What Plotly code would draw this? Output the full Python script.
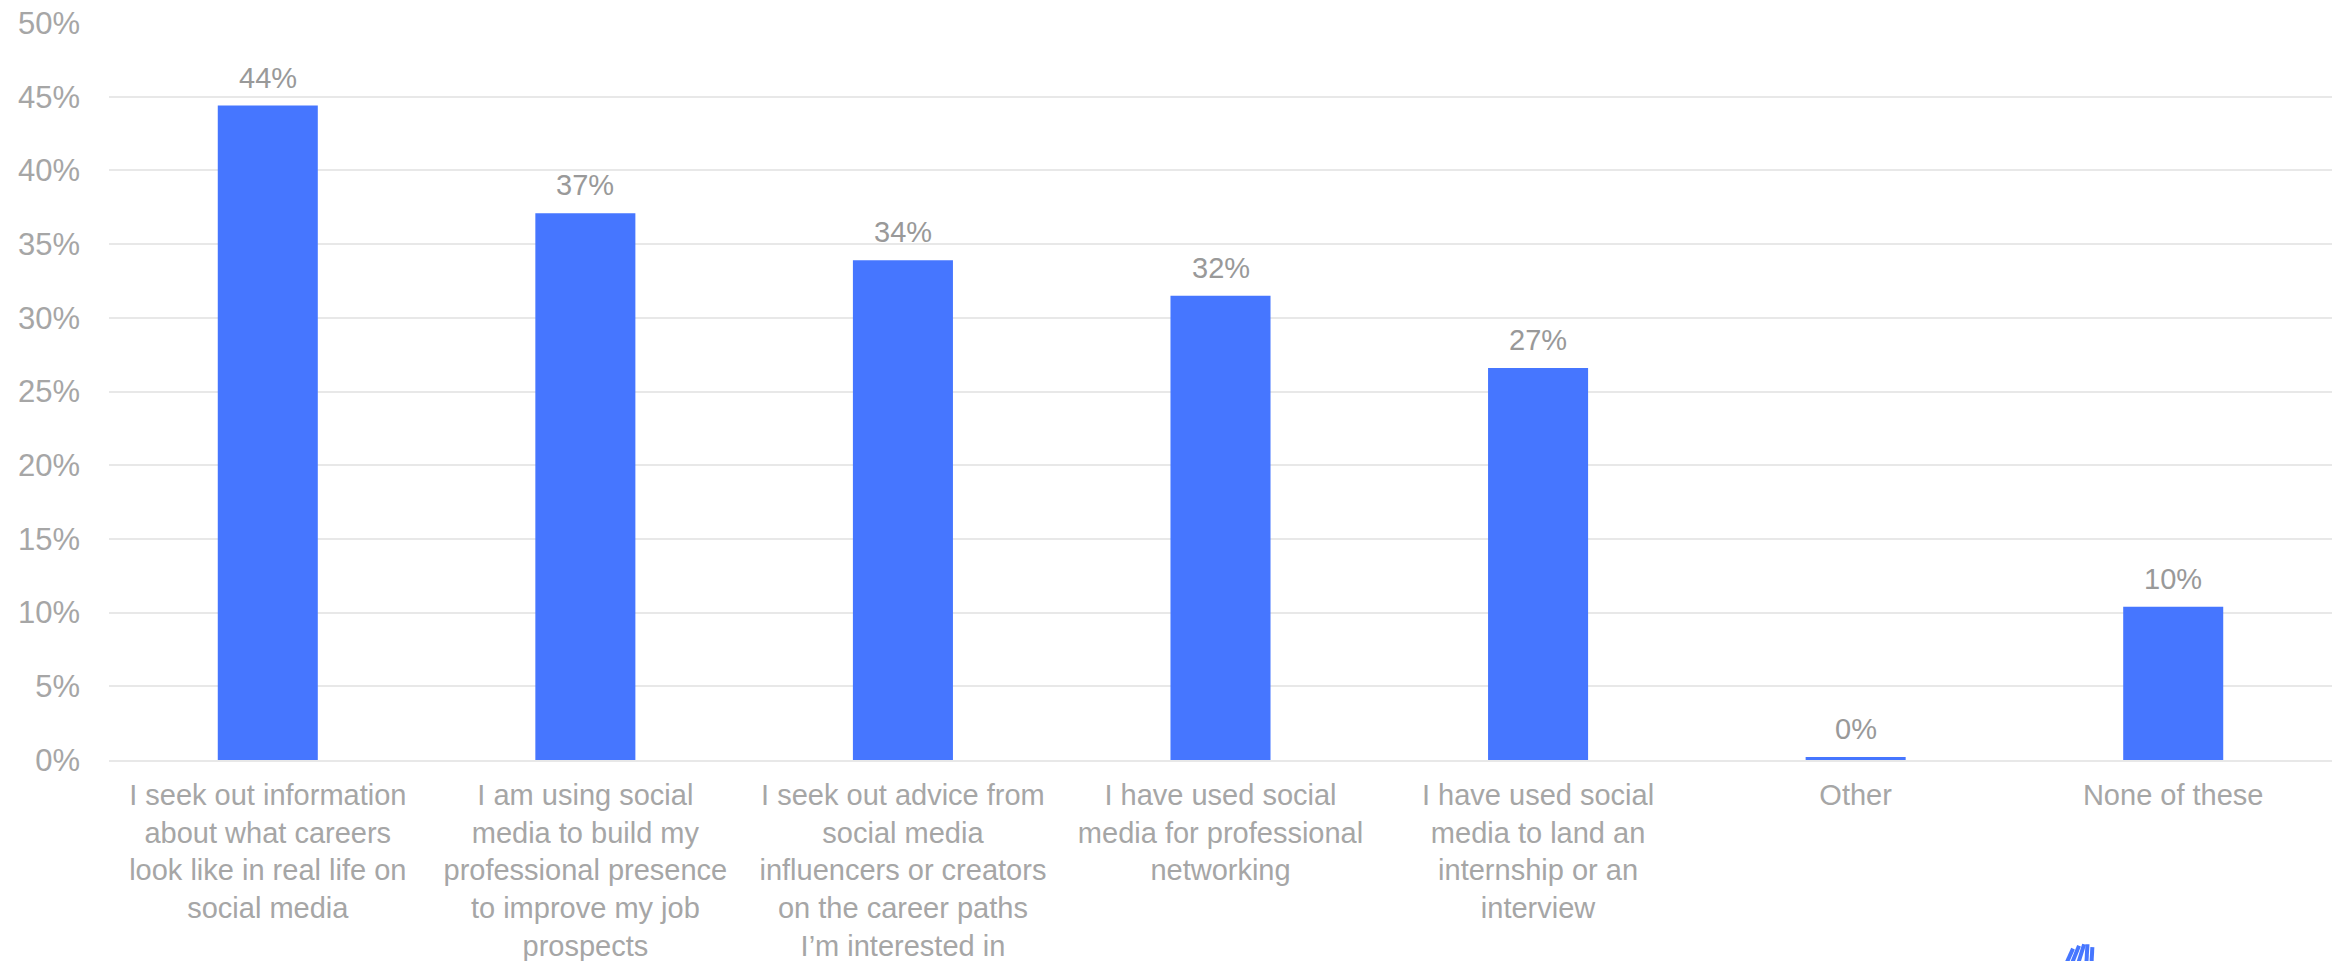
import plotly.graph_objects as go

categories = [
    "I seek out information<br>about what careers<br>look like in real life on<br>social media",
    "I am using social<br>media to build my<br>professional presence<br>to improve my job<br>prospects",
    "I seek out advice from<br>social media<br>influencers or creators<br>on the career paths<br>I’m interested in",
    "I have used social<br>media for professional<br>networking",
    "I have used social<br>media to land an<br>internship or an<br>interview",
    "Other",
    "None of these",
]
values = [44.4, 37.1, 33.9, 31.5, 26.6, 0.2, 10.4]
tick_vals = [0, 5, 10, 15, 20, 25, 30, 35, 40, 45, 50]
tick_text = [f"{v}%" for v in tick_vals]

BAR = "#4676FF"
GREY = "#A6A6A6"
FONT = "Liberation Sans, Arial, sans-serif"

fig = go.Figure(
    go.Bar(
        x=categories,
        y=values,
        marker=dict(color=BAR, line=dict(width=0)),
        width=0.315,
        hoverinfo="x+y",
    )
)

for c, v in zip(categories, values):
    fig.add_annotation(
        x=c, y=v, text=f"{v:.0f}%", showarrow=False,
        xref="x", yref="y", yanchor="bottom", yshift=10,
        font=dict(size=29, color="#999999", family=FONT),
    )

fig.update_layout(
    width=2341,
    height=961,
    margin=dict(l=109, r=9, t=23, b=201, autoexpand=False),
    paper_bgcolor="white",
    plot_bgcolor="white",
    showlegend=False,
    font=dict(family=FONT, size=29, color=GREY),
)
fig.update_yaxes(
    range=[0, 50],
    tickvals=tick_vals,
    ticktext=tick_text,
    showgrid=True,
    gridcolor="#E8E8E8",
    gridwidth=2,
    zeroline=False,
    showline=False,
    ticks="",
    automargin=False,
    ticklabeloverflow="allow",
    ticklabelstandoff=28,
    tickfont=dict(size=31, color=GREY, family=FONT),
)
fig.update_xaxes(
    showgrid=False,
    showline=True,
    linecolor="#E8E8E8",
    linewidth=2,
    ticks="",
    tickangle=0,
    automargin=False,
    ticklabeloverflow="allow",
    ticklabelstandoff=8,
    tickfont=dict(size=29, color=GREY, family=FONT),
)

# small partial logo at bottom right (cut by the lower edge)
for x0, x1, y0, y1 in [
    (0.8805, 0.8835, -0.256, -0.276),
    (0.8830, 0.8862, -0.252, -0.276),
    (0.8858, 0.8885, -0.250, -0.276),
    (0.8895, 0.8900, -0.250, -0.276),
    (0.8918, 0.8922, -0.254, -0.276),
]:
    fig.add_shape(
        type="line", xref="paper", yref="paper",
        x0=x0, x1=x1, y0=y1, y1=y0,
        line=dict(color=BAR, width=4), layer="above",
    )

fig.write_html(
    "out.html",
    config={"displayModeBar": False},
    post_script="document.body.style.margin='0';document.body.style.overflow='hidden';",
)
